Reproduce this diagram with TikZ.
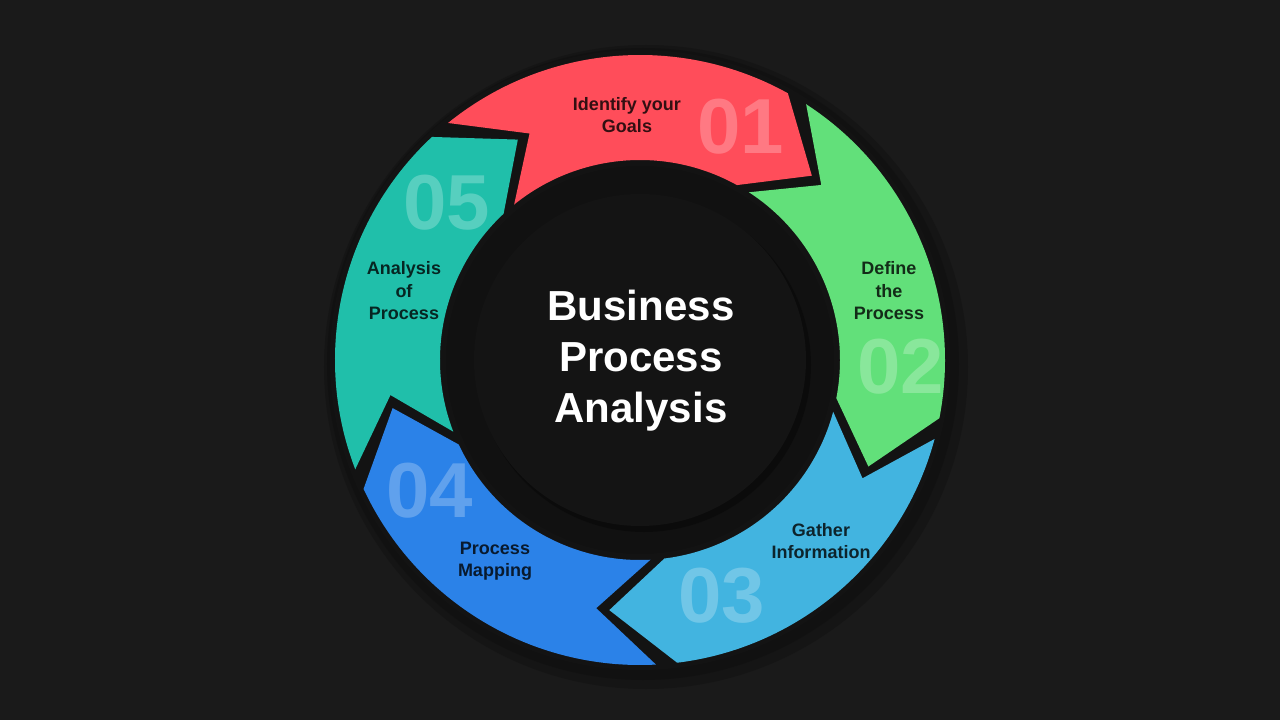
\documentclass[tikz,border=0pt]{standalone}
\usepackage{fontspec}
\setmainfont{Liberation Sans}
\usepackage{xcolor}
\definecolor{bg}{HTML}{1A1A1A}
\definecolor{rim}{HTML}{131313}
\definecolor{disk}{HTML}{141414}
\definecolor{stepred}{HTML}{FF4D5A}
\definecolor{stepgreen}{HTML}{62E07A}
\definecolor{stepsky}{HTML}{42B4E0}
\definecolor{stepblue}{HTML}{2B82E8}
\definecolor{stepteal}{HTML}{20BFAA}
\tikzset{steplabel/.style={text=black,text opacity=0.8,align=center,font=\bfseries\fontsize{18}{22.5}\selectfont},
stepnum/.style={text=white,text opacity=0.25,font=\bfseries\fontsize{78}{78}\selectfont}}

\begin{document}
\begin{tikzpicture}[x=1pt,y=1pt]
\fill[bg](-640,-360) rectangle (640,360);
\useasboundingbox (-640,-360) rectangle (640,360);
% shadow and dark rim of the ring
\fill[black,opacity=0.18](6,-7) circle[radius=322];
\fill[black,opacity=0.15](3,-4) circle[radius=316];
\fill[rim,even odd rule](0,0) circle[radius=310] (0,0) circle[radius=194];
% the five arrows
\foreach \t/\c in {129/stepred,57/stepgreen,-15/stepsky,-87/stepblue,-159/stepteal}{
\fill[\c](\t:305) arc[start angle=\t,end angle=\t-68,radius=305]--({\t-82}:252)--({\t-68}:200)
 arc[start angle=\t-68,end angle=\t,radius=200]--({\t-13}:252)--cycle;}
% centre disk
\fill[black,opacity=0.3](4,-5) circle[radius=167];
\fill[disk](0,0) circle[radius=166];
\node[white,align=center,font=\bfseries\fontsize{42}{51}\selectfont] (title) at (1,-1) {Business\\Process\\Analysis};
\foreach \n/\lx/\ly/\nx/\ny/\txt in {01/-13/245/101/233/{Identify your\\Goals},
 02/249/69/261/-7/{Define\\the\\Process},
 03/181/-181/82/-236/{Gather\\Information},
 04/-145/-201/-210/-131/{Process\\Mapping},
 05/-236/69/-193/157/{Analysis\\of\\Process}}{
\node[stepnum] (num\n) at (\nx,\ny) {\n};
\node[steplabel] (lab\n) at (\lx,\ly) {\txt};}
\end{tikzpicture}
\end{document}
